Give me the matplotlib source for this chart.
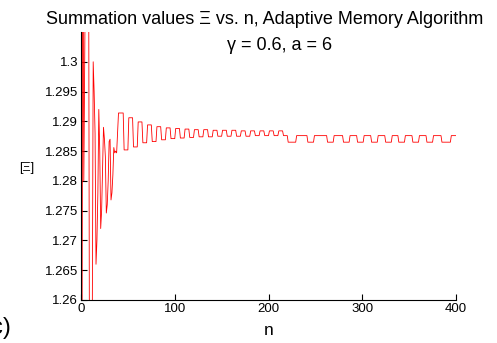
import numpy as np
import matplotlib.pyplot as plt

plt.rcParams['font.family'] = ['Liberation Sans', 'DejaVu Sans']

# n = 1..40, read point by point off the spiky start
early_xi = [1.240, 1.330, 1.280, 1.303, 1.320, 1.315, 1.320, 1.330, 1.250, 1.245,
            1.250, 1.255, 1.300, 1.295, 1.288, 1.266, 1.270, 1.278, 1.292, 1.285,
            1.272, 1.275, 1.282, 1.289, 1.287, 1.284, 1.2746, 1.276, 1.280, 1.2866,
            1.287, 1.2768, 1.278, 1.281, 1.2856, 1.2847, 1.285, 1.2847, 1.288, 1.2914]

# n = 41..220: one high plateau and one low plateau per cycle
mid_high = [1.2914, 1.2906, 1.2899, 1.2894, 1.2891, 1.2889, 1.2888, 1.2887, 1.2886,
            1.2886, 1.2885, 1.2885, 1.2885, 1.2884, 1.2884, 1.2884, 1.2884, 1.2884]
mid_low = [1.2852, 1.2857, 1.2864, 1.2866, 1.2869, 1.2871, 1.2872, 1.2873, 1.2874,
           1.2874, 1.2875, 1.2875, 1.2875, 1.2875, 1.2876, 1.2876, 1.2876, 1.2876]
mid_run = 5

# n = 221..400: after the step down, plateau levels and their lengths
late_levels = [1.2865, 1.2876] * 11
late_runs = [9, 12, 7, 14, 7, 10, 7, 8, 7, 8, 7, 8, 7, 7, 7, 8, 7, 8, 7, 9, 10, 6]

xi = list(early_xi)
for hi, lo in zip(mid_high, mid_low):
    xi += [hi] * mid_run + [lo] * mid_run
xi += list(np.repeat(late_levels, late_runs))
n = np.arange(1, len(xi) + 1)

fig = plt.figure(figsize=(4.97, 3.43), dpi=100)
ax = fig.add_axes([81 / 497, 1 - 300 / 343, 375 / 497, 268 / 343])

ax.plot(n, xi, color='red', linewidth=0.6)

ax.set_xlim(0, 400)
ax.set_ylim(1.26, 1.305)
ax.set_xticks([0, 100, 200, 300, 400])
ax.set_yticks([1.26, 1.265, 1.27, 1.275, 1.28, 1.285, 1.29, 1.295, 1.3])
ax.set_yticklabels(['1.26', '1.265', '1.27', '1.275', '1.28', '1.285', '1.29', '1.295', '1.3'])

for side in ['top', 'right']:
    ax.spines[side].set_visible(False)
for side in ['left', 'bottom']:
    ax.spines[side].set_linewidth(0.8)
ax.tick_params(direction='in', length=4, width=0.8, labelsize=9.5, pad=2)

# two-line title placed by hand so it stays inside the figure
fig.text(265 / 497, 1 - 20 / 343, 'Summation values \u039e vs. n, Adaptive Memory Algorithm',
         fontsize=13, ha='center', va='center')
fig.text(280 / 497, 1 - 45 / 343, '\u03b3 = 0.6, a = 6', fontsize=13, ha='center', va='center')
ax.set_xlabel('n', fontsize=12.5, labelpad=6)
fig.text(27 / 497, 1 - 168 / 343, '[\u039e]', fontsize=9, ha='center', va='center')
# panel letter, mostly cut off at the left edge as in the source figure
fig.text(11 / 497, 1 - 328 / 343, '(c)', fontsize=17, ha='right', va='center')

fig.savefig('out.png', dpi=100)
